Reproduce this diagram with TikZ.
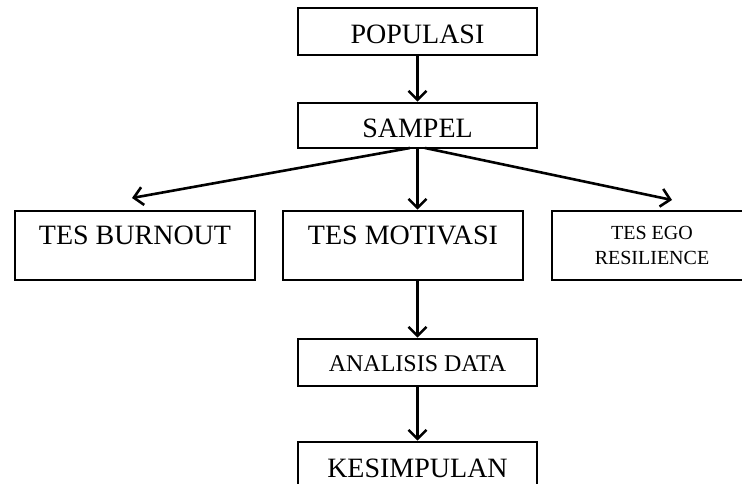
\documentclass[tikz,border=0pt]{standalone}
\usepackage{fontspec}
\setmainfont{Liberation Serif}
\usetikzlibrary{arrows.meta}
\begin{document}
\begin{tikzpicture}[x=1pt,y=-1pt,
  box/.style={draw=black, line width=2.6pt, rectangle, inner sep=0pt, align=center},
  mainbox/.style={box, minimum width=239pt, minimum height=47pt, font=\fontsize{28}{33}\selectfont, text height=24pt, text depth=0pt},
  tallbox/.style={box, minimum width=240pt, minimum height=69pt, font=\fontsize{28}{33}\selectfont, text height=20pt, text depth=23pt},
  arr/.style={line width=2.6pt, -{Straight Barb[length=9pt,width=18pt,line width=2.6pt]}}
]
\useasboundingbox (0,0) rectangle (742,484);
\clip (0,0) rectangle (742,484);
\node[mainbox] (populasi) at (417.5,31.5) {POPULASI};
\node[mainbox, minimum height=45pt] (sampel) at (417.5,125.5) {SAMPEL};
\node[tallbox] (burnout) at (135,245.5) {TES BURNOUT};
\node[tallbox] (motivasi) at (403,245.5) {TES MOTIVASI};
\node[box, minimum width=200pt, minimum height=69pt, font=\fontsize{20}{25}\selectfont] (ego) at (652,245.5) {TES EGO\\RESILIENCE};
\node[mainbox, font=\fontsize{24}{29}\selectfont, text height=17pt] (analisis) at (417.5,362.5) {ANALISIS DATA};
\node[mainbox, text height=23pt] (kesimpulan) at (417.5,465.5) {KESIMPULAN};
\coordinate (sl) at (410,148);
\coordinate (sr) at (425,148);
\coordinate (tl) at (132,198);
\coordinate (tr) at (672,200);
\draw[arr] (populasi.south) -- (sampel.north);
\draw[arr] (sampel.south) -- (sampel.south |- motivasi.north);
\draw[arr] (sl) -- (tl);
\draw[arr] (sr) -- (tr);
\draw[arr] (analisis.north |- motivasi.south) -- (analisis.north);
\draw[arr] (analisis.south) -- (kesimpulan.north);
\end{tikzpicture}
\end{document}
